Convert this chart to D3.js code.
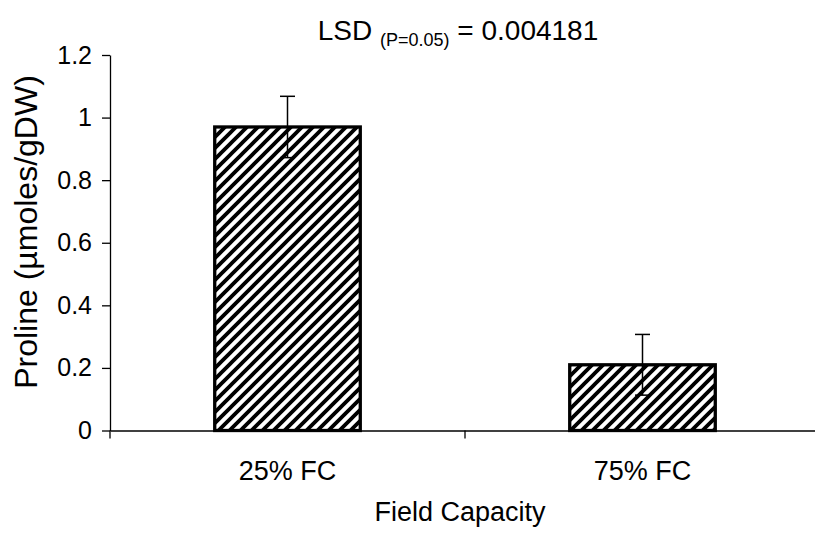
<!DOCTYPE html>
<html>
<head>
<meta charset="utf-8">
<script src="https://cdn.jsdelivr.net/npm/d3@7"></script>
<style>
  body { margin: 0; background: #fff; }
  text { font-family: "Liberation Sans", Arial, sans-serif; fill: #000; }
</style>
</head>
<body>
<div id="chart"></div>
<script>
// data
const categories = ['25% FC', '75% FC'];
const means = [0.97, 0.21];
const errors = [0.098, 0.097];
const yTicks = [0, 0.2, 0.4, 0.6, 0.8, 1, 1.2];

const size = { width: 815, height: 535 };
const plot = { left: 110, right: 820, top: 55, bottom: 430.5 };

const svg = d3.select('#chart').append('svg')
    .attr('width', size.width)
    .attr('height', size.height);

// diagonal hatch like Excel's wide upward diagonal
const defs = svg.append('defs');
const pat = defs.append('pattern')
    .attr('id', 'hatch')
    .attr('patternUnits', 'userSpaceOnUse')
    .attr('width', 11).attr('height', 11);
pat.append('rect').attr('width', 11).attr('height', 11).attr('fill', '#fff');
pat.append('path')
    .attr('d', 'M-3,3 L3,-3 M0,11 L11,0 M8,14 L14,8')
    .attr('stroke', '#000')
    .attr('stroke-width', 3.8);

const x = d3.scaleBand()
    .domain(categories)
    .range([plot.left, plot.right])
    .paddingInner(0)
    .paddingOuter(0);
const barW = x.bandwidth() * 0.41;

const y = d3.scaleLinear()
    .domain([0, 1.2])
    .range([plot.bottom, plot.top]);

// y axis
const yAxis = svg.append('g')
    .attr('transform', `translate(${plot.left},0)`)
    .call(d3.axisLeft(y).tickValues(yTicks).tickFormat(d3.format('~g'))
        .tickSize(8).tickPadding(10).tickSizeOuter(0));
yAxis.select('.domain').attr('stroke', '#000').attr('stroke-width', 1.3);
yAxis.selectAll('.tick line').attr('stroke', '#000').attr('stroke-width', 1.3);
yAxis.selectAll('.tick text').style('font-size', '25px');

// bars
svg.append('g').selectAll('rect')
    .data(categories)
    .join('rect')
    .attr('x', d => x(d) + (x.bandwidth() - barW) / 2)
    .attr('y', (d, i) => y(means[i]))
    .attr('width', barW)
    .attr('height', (d, i) => y(0) - y(means[i]))
    .attr('fill', 'url(#hatch)')
    .attr('stroke', '#000')
    .attr('stroke-width', 3.3);

// x axis
const xAxis = svg.append('g')
    .attr('transform', `translate(0,${plot.bottom})`)
    .call(d3.axisBottom(x).tickSize(0).tickPadding(30).tickSizeOuter(0));
xAxis.select('.domain').attr('stroke', '#000').attr('stroke-width', 1.3);
xAxis.selectAll('.tick text').style('font-size', '27px');

// category boundary ticks
const bounds = categories.map(d => x(d)).concat([plot.right]);
svg.append('g').selectAll('line')
    .data(bounds)
    .join('line')
    .attr('x1', d => d).attr('x2', d => d)
    .attr('y1', plot.bottom).attr('y2', plot.bottom + 8)
    .attr('stroke', '#000').attr('stroke-width', 1.3);

// error bars
const eb = svg.append('g').attr('stroke', '#000').attr('stroke-width', 1.5);
categories.forEach((c, i) => {
    const cx = x(c) + x.bandwidth() / 2;
    const hi = y(means[i] + errors[i]);
    const lo = y(means[i] - errors[i]);
    eb.append('line').attr('x1', cx).attr('x2', cx).attr('y1', hi).attr('y2', lo);
    eb.append('line').attr('x1', cx - 7.5).attr('x2', cx + 7.5).attr('y1', hi).attr('y2', hi);
    eb.append('line').attr('x1', cx - 7.5).attr('x2', cx + 7.5).attr('y1', lo).attr('y2', lo);
});

// titles
const title = svg.append('text')
    .attr('x', 458).attr('y', 40)
    .attr('text-anchor', 'middle')
    .style('font-size', '28px');
title.append('tspan').text('LSD ');
title.append('tspan').attr('dy', 6).style('font-size', '18px').text('(P=0.05)');
title.append('tspan').attr('dy', -6).text(' = 0.004181');

svg.append('text')
    .attr('x', 460).attr('y', 521)
    .attr('text-anchor', 'middle')
    .style('font-size', '27px')
    .text('Field Capacity');

svg.append('text')
    .attr('transform', 'translate(37,232) rotate(-90)')
    .attr('text-anchor', 'middle')
    .style('font-size', '32px')
    .text('Proline (µmoles/gDW)');
</script>
</body>
</html>
